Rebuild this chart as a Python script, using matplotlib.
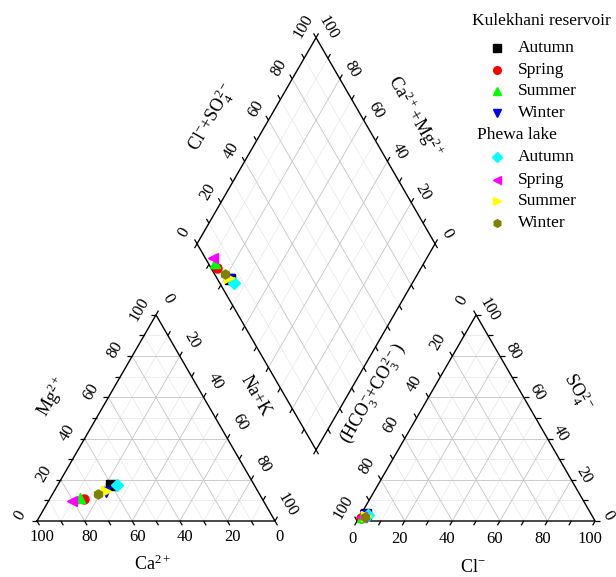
import numpy as np
import matplotlib.pyplot as plt

plt.rcParams['font.family'] = ['Liberation Serif', 'DejaVu Serif']
plt.rcParams['mathtext.default'] = 'regular'

# ---- data (percent of meq) ----
seasons = ['Autumn', 'Spring', 'Summer', 'Winter']
# Kulekhani reservoir
kul_ca = [60.0, 75.0, 76.5, 64.0]
kul_mg = [17.5, 10.7, 11.2, 14.0]
kul_nak = [22.5, 14.3, 12.3, 22.0]
kul_cl = [2.0, 1.0, 1.2, 2.0]
kul_so4 = [3.5, 1.5, 1.8, 3.0]
# Phewa lake
phe_ca = [57.5, 80.5, 63.5, 68.0]
phe_mg = [17.5, 9.5, 14.7, 13.0]
phe_nak = [25.0, 10.0, 21.8, 19.0]
phe_cl = [3.0, 1.0, 2.5, 2.5]
phe_so4 = [3.0, 2.0, 2.5, 2.0]

kul_style = [('s', '#000000'), ('o', '#ff0000'), ('^', '#00ff00'), ('v', '#0000ff')]
phe_style = [('D', '#00ffff'), ('<', '#ff00ff'), ('>', '#ffff00'), ('h', '#808000')]

S3 = np.sqrt(3) / 2
G = 0.345          # gap between the two triangles
PX = 1 / 238.0     # one pixel in data units
TICK = 5 * PX
FS = 12

# corners
LT = {'ca': np.array([0.0, 0.0]), 'nak': np.array([1.0, 0.0]), 'mg': np.array([0.5, S3])}
RT = {'hco3': np.array([1 + G, 0.0]), 'cl': np.array([2 + G, 0.0]), 'so4': np.array([1.5 + G, S3])}
DB = np.array([1 + G / 2, G * S3])
DA = np.array([-0.5, S3])   # direction of Ca+Mg
DBv = np.array([0.5, S3])   # direction of Cl+SO4


def tern(corners, vals):
    p = np.zeros(2)
    for k, v in vals.items():
        p = p + corners[k] * v / 100.0
    return p


def diam(a, b):
    return DB + DA * a / 100.0 + DBv * b / 100.0


fig = plt.figure(figsize=(6.16, 5.77), dpi=100)
ax = fig.add_axes([0, 0, 1, 1])
ax.set_xlim(-37 * PX, 579 * PX)
ax.set_ylim(-56 * PX, 521 * PX)
ax.set_aspect('equal')
ax.axis('off')


def line(p, q, **kw):
    ax.plot([p[0], q[0]], [p[1], q[1]], solid_capstyle='butt', **kw)


def grid_style(v):
    if v % 20 == 0:
        return dict(color='#c4c4c4', lw=0.6, zorder=1)
    return dict(color='#e6e6e6', lw=0.5, zorder=0.5)


# ---- triangle grids ----
for corners in (LT, RT):
    keys = list(corners.keys())
    for i, k in enumerate(keys):
        o1, o2 = keys[(i + 1) % 3], keys[(i + 2) % 3]
        for v in range(10, 100, 10):
            p = tern(corners, {k: v, o1: 100 - v})
            q = tern(corners, {k: v, o2: 100 - v})
            line(p, q, **grid_style(v))
    c = [corners[k] for k in keys] + [corners[keys[0]]]
    ax.plot([p[0] for p in c], [p[1] for p in c], color='black', lw=1.0, zorder=3)

# ---- diamond grid ----
for v in range(10, 100, 10):
    line(diam(v, 0), diam(v, 100), **grid_style(v))
    line(diam(0, v), diam(100, v), **grid_style(v))
dc = [diam(0, 0), diam(100, 0), diam(100, 100), diam(0, 100), diam(0, 0)]
ax.plot([p[0] for p in dc], [p[1] for p in dc], color='black', lw=1.0, zorder=3)


# ---- ticks and labels ----
def axis_ticks(pos_fn, direction, off_px=None, rot=0, labels=True):
    d = np.array(direction) / np.linalg.norm(direction)
    for v in range(0, 101, 10):
        p = pos_fn(v)
        line(p, p + d * TICK, color='black', lw=0.9, zorder=3)
        if labels and off_px is not None and v % 20 == 0:
            t = p + np.array([off_px[0], -off_px[1]]) * PX
            ax.text(t[0], t[1], str(v), fontsize=FS, rotation=rot,
                    ha='center', va='center', rotation_mode='anchor')


# left triangle
axis_ticks(lambda v: tern(LT, {'ca': v, 'nak': 100 - v}), (0.5, -S3), (5, 16), 0)
axis_ticks(lambda v: tern(LT, {'mg': v, 'ca': 100 - v}), (-1, 0), (-17, -6), 60)
axis_ticks(lambda v: tern(LT, {'nak': v, 'mg': 100 - v}), (0.5, S3), (12, -16), -60)
# right triangle
axis_ticks(lambda v: tern(RT, {'cl': v, 'hco3': 100 - v}), (-0.5, -S3), (-5, 18), 0)
axis_ticks(lambda v: tern(RT, {'so4': v, 'cl': 100 - v}), (1, 0), (13, -5), -60)
axis_ticks(lambda v: tern(RT, {'hco3': v, 'so4': 100 - v}), (-0.5, S3), (-14, -14), 60)
# diamond
axis_ticks(lambda v: diam(100, v), (-0.5, S3), (-13, -11), 60)
axis_ticks(lambda v: diam(v, 100), (0.5, S3), (12, -10), -60)
axis_ticks(lambda v: diam(v, 0), (-0.5, -S3), labels=False)
axis_ticks(lambda v: diam(0, v), (0.5, -S3), labels=False)

# ---- axis titles (pixel positions) ----
def ptxt(px, py, s, rot=0, fs=13):
    ax.text(px * PX - 37 * PX, (521 - py) * PX, s, fontsize=fs, rotation=rot,
            ha='center', va='center', rotation_mode='anchor')


ptxt(153, 564, r'Ca$^{2+}$')
ptxt(52, 397, r'Mg$^{2+}$', 60)
ptxt(255, 396, 'Na+K', -60)
ptxt(473, 568, r'Cl$^{-}$')
ptxt(578, 392, r'SO$_4^{2-}$', -60)
ptxt(373, 393, r'(HCO$_3^{-}$+CO$_3^{2-}$)', 60)
ptxt(212, 117, r'Cl$^{-}$+SO$_4^{2-}$', 60)
ptxt(415, 117, r'Ca$^{2+}$+Mg$^{2+}$', -60)

# ---- data points ----
groups = [
    (kul_ca, kul_mg, kul_nak, kul_cl, kul_so4, kul_style),
    (phe_ca, phe_mg, phe_nak, phe_cl, phe_so4, phe_style),
]
for ca, mg, nak, cl, so4, style in groups:
    for i in range(len(seasons)):
        m, c = style[i]
        p1 = tern(LT, {'ca': ca[i], 'mg': mg[i], 'nak': nak[i]})
        hco3 = 100 - cl[i] - so4[i]
        p2 = tern(RT, {'cl': cl[i], 'so4': so4[i], 'hco3': hco3})
        p3 = diam(ca[i] + mg[i], cl[i] + so4[i])
        for p in (p1, p2, p3):
            ax.plot(p[0], p[1], marker=m, color=c, ms=6.5, mec=c, ls='none', zorder=5)

# ---- legend ----
def fx(px):
    return px / 616.0


def fy(py):
    return 1 - py / 577.0


ax.text(fx(472), fy(21), 'Kulekhani reservoir', transform=ax.transAxes,
        fontsize=12.5, ha='left', va='center')
ax.text(fx(477), fy(135), 'Phewa lake', transform=ax.transAxes,
        fontsize=12.5, ha='left', va='center')
rows_k = [48, 69.5, 91, 113]
rows_p = [157, 179.5, 201.5, 223]
for rows, style in ((rows_k, kul_style), (rows_p, phe_style)):
    for i, s in enumerate(seasons):
        m, c = style[i]
        ax.plot(fx(497), fy(rows[i]), marker=m, color=c, mec=c, ms=5.5,
                transform=ax.transAxes, ls='none')
        ax.text(fx(518), fy(rows[i]), s, transform=ax.transAxes,
                fontsize=12.5, ha='left', va='center')

fig.savefig('out.png', dpi=100)
